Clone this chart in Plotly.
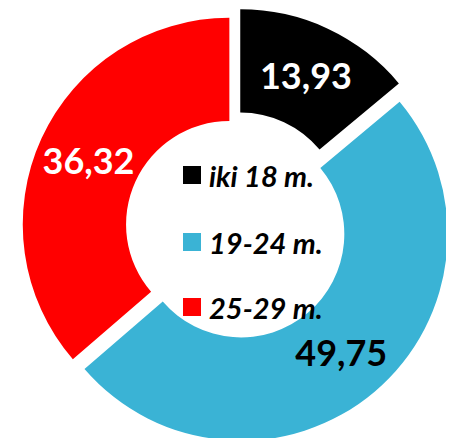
import plotly.graph_objects as go

categories = ["iki 18 m.", "19-24 m.", "25-29 m."]
values = [13.93, 49.75, 36.32]
colors = ["#000000", "#3AB3D5", "#FF0000"]
text_colors = ["#FFFFFF", "#000000", "#FFFFFF"]
pulls = [0.06, 0.045, 0.03]

labels_text = [f"{v:.2f}".replace(".", ",") for v in values]

fig = go.Figure(go.Pie(
    labels=categories,
    values=values,
    text=labels_text,
    textinfo="text",
    textposition="inside",
    insidetextorientation="horizontal",
    textfont=dict(family="Lato, Open Sans, sans-serif", size=36, color=text_colors,
                  weight="bold"),
    marker=dict(colors=colors, line=dict(width=0)),
    hole=0.5,
    sort=False,
    direction="clockwise",
    rotation=0,
    pull=pulls,
    showlegend=False,
    domain=dict(x=[0, 1], y=[0, 1]),
))

W, H = 454, 438
leg_y = [167, 234, 299]
sq = 18
for cat, col, yy in zip(categories, colors, leg_y):
    fig.add_shape(
        type="rect", xref="paper", yref="paper",
        x0=175 / W, x1=(175 + sq) / W,
        y0=1 - (yy + sq / 2) / H, y1=1 - (yy - sq / 2) / H,
        fillcolor=col, line=dict(width=0),
    )
    fig.add_annotation(
        xref="paper", yref="paper", x=199 / W, y=1 - yy / H,
        xanchor="left", yanchor="middle", showarrow=False,
        text=f"<b><i>{cat}</i></b>",
        font=dict(family="Lato, Open Sans, sans-serif", size=29, color="#000000"),
    )

fig.update_layout(
    width=W, height=H,
    margin=dict(l=0, r=0, t=0, b=0),
    paper_bgcolor="white", plot_bgcolor="white",
    uniformtext=dict(minsize=36, mode="show"),
)

fig.write_html("out.html")
